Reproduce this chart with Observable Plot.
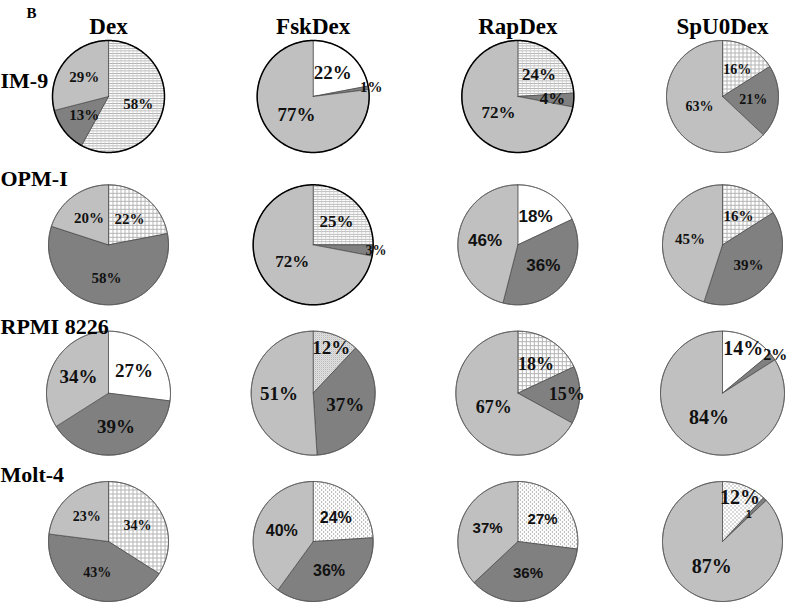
<!DOCTYPE html>
<html><head><meta charset="utf-8">
<script src="https://cdn.jsdelivr.net/npm/d3@7"></script>
<script src="https://cdn.jsdelivr.net/npm/@observablehq/plot@0.6"></script>
<style>body{margin:0;background:#fff} #chart{width:800px;height:606px}</style>
</head><body><div id="chart"></div>
<script>
// ---- data ----
const cellLines = ["IM-9", "OPM-I", "RPMI 8226", "Molt-4"];
const treatments = ["Dex", "FskDex", "RapDex", "SpU0Dex"];
// per treatment: [first (white/patterned) slice, dark slice, light slice], in %
const im9 = [[58, 13, 29], [22, 1, 77], [24, 4, 72], [16, 21, 63]];
const opm1 = [[22, 58, 20], [25, 3, 72], [18, 36, 46], [16, 39, 45]];
const rpmi8226 = [[27, 39, 34], [12, 37, 51], [18, 15, 67], [14, 2, 84]];
const molt4 = [[34, 43, 23], [24, 36, 40], [27, 36, 37], [12, 1, 87]];
const valuesByLine = [im9, opm1, rpmi8226, molt4];
const labelOverride = {"Molt-4|SpU0Dex|1": "1"};

// ---- styles ----
const firstFill = [
  ["hlines", "white", "hlines", "grid"],
  ["grid", "hlines", "white", "grid"],
  ["white", "stipple", "grid", "white"],
  ["grid", "dots", "dots", "dots"]
];
const labelSize = [[15, 19, 17, 14], [15, 17, 17, 15], [19, 19, 18, 20], [14, 16, 15, 20]];
const labelSans = [[0, 0, 0, 0], [0, 0, 1, 0], [0, 0, 0, 0], [0, 1, 1, 0]];
const heavyOutline = [[1, 1, 1, 0], [0, 1, 0, 0], [0, 0, 0, 0], [0, 0, 0, 0]];
const rowRadius = [56, 60, 62, 60];
const LIGHT = "#c0c0c0", DARK = "#808080";
const fillOf = k => k === "white" ? "#ffffff" : `url(#pat-${k})`;

// ---- geometry from data ----
const slices = [], labels = [], outlines = [];
cellLines.forEach((line, i) => treatments.forEach((tr, j) => {
  const vals = valuesByLine[i][j];
  const r = rowRadius[i];
  const total = d3.sum(vals);
  const fs = labelSize[i][j];
  let acc = 0;
  vals.forEach((v, k) => {
    const a0 = acc / total * 2 * Math.PI; acc += v;
    const a1 = acc / total * 2 * Math.PI;
    const id = `${line}|${tr}|${k}`;
    const fill = k === 0 ? fillOf(firstFill[i][j]) : k === 1 ? DARK : LIGHT;
    const n = Math.max(2, Math.ceil((a1 - a0) / (Math.PI / 180)));
    slices.push({id, line, tr, fill, x: 0, y: 0});
    for (let s = 0; s <= n; s++) {
      const a = a0 + (a1 - a0) * s / n;
      slices.push({id, line, tr, fill, x: r * Math.sin(a), y: r * Math.cos(a)});
    }
    slices.push({id, line, tr, fill, x: 0, y: 0});
    const mid = (a0 + a1) / 2, frac = v / total;
    const key = `${line}|${tr}|${v}`;
    const text = labelOverride[key] ?? `${v}%`;
    const small = !text.includes("%");
    const tiny = !small && frac <= 0.03;
    const kf = small ? 0.62
      : tiny ? 1.05
      : frac <= 0.05 ? 0.62
      : (frac < 0.155 && fs >= 18) ? 0.79
      : frac >= 0.6 ? 0.45 : 0.55;
    labels.push({line, tr, text, x: kf * r * Math.sin(mid), y: kf * r * Math.cos(mid),
      size: small ? 10 : tiny ? Math.round(fs * 0.8) : fs, sans: small || labelSans[i][j] === 1});
  });
  for (let s = 0; s <= 360; s++) {
    const a = s / 180 * Math.PI;
    outlines.push({id: `${line}|${tr}`, line, tr, heavy: heavyOutline[i][j] === 1,
      x: r * Math.sin(a), y: r * Math.cos(a)});
  }
}));

const serif = "'Liberation Serif', 'Times New Roman', serif";
const sans = "'Liberation Sans', Arial, sans-serif";

const svg = Plot.plot({
  width: 800, height: 606,
  marginLeft: 38, marginRight: 8, marginTop: 36, marginBottom: 5,
  fx: {domain: treatments, paddingInner: 0.316, paddingOuter: 0, round: false, axis: null},
  fy: {domain: cellLines, paddingInner: 0.191, paddingOuter: 0, round: false, axis: null},
  x: {domain: [-70, 70], axis: null},
  y: {domain: [-60, 60], axis: null},
  color: {type: "identity"},
  marks: [
    Plot.line(slices, {x: "x", y: "y", z: "id", fx: "tr", fy: "line", fill: "fill",
      stroke: "#3a3a3a", strokeWidth: 0.6, strokeLinejoin: "round", curve: "linear"}),
    Plot.line(outlines.filter(d => !d.heavy), {x: "x", y: "y", z: "id", fx: "tr", fy: "line",
      stroke: "#555", strokeWidth: 0.8}),
    Plot.line(outlines.filter(d => d.heavy), {x: "x", y: "y", z: "id", fx: "tr", fy: "line",
      stroke: "#000", strokeWidth: 1.5}),
    Plot.text(labels.filter(d => !d.sans), {x: "x", y: "y", fx: "tr", fy: "line", text: "text",
      fontSize: "size", fontWeight: "bold", fontFamily: serif, fill: "#111"}),
    Plot.text(labels.filter(d => d.sans), {x: "x", y: "y", fx: "tr", fy: "line", text: "text",
      fontSize: "size", fontWeight: "bold", fontFamily: sans, fill: "#111"}),
    // column titles
    Plot.text(treatments, {fx: d => d, fy: () => cellLines[0], text: d => d, frameAnchor: "top",
      lineAnchor: "bottom", dy: -3, fontSize: 23, fontWeight: "bold", fontFamily: serif, fill: "#000"}),
    // row labels
    Plot.text(cellLines.slice(0, 1), {fx: () => treatments[0], fy: d => d, text: d => d,
      frameAnchor: "top-left", textAnchor: "start", lineAnchor: "bottom", dx: -38, dy: 51,
      fontSize: 22, fontWeight: "bold", fontFamily: serif, fill: "#000"}),
    Plot.text(cellLines.slice(1), {fx: () => treatments[0], fy: d => d, text: d => d,
      frameAnchor: "top-left", textAnchor: "start", lineAnchor: "bottom", dx: -38, dy: 1,
      fontSize: 22, fontWeight: "bold", fontFamily: serif, fill: "#000"}),
    // panel letter
    Plot.text(["B"], {fx: () => treatments[0], fy: () => cellLines[0], text: d => d,
      frameAnchor: "top-left", textAnchor: "start", lineAnchor: "bottom", dx: -12, dy: -19,
      fontSize: 15, fontWeight: "bold", fontFamily: serif, fill: "#000"})
  ]
});

const ns = "http://www.w3.org/2000/svg";
const defs = document.createElementNS(ns, "defs");
defs.innerHTML = `
<pattern id="pat-hlines" patternUnits="userSpaceOnUse" width="4" height="2.5">
  <rect width="4" height="2.5" fill="#fff"/>
  <rect y="0" width="4" height="0.8" fill="#a8a8a8"/>
  <rect x="0" width="0.7" height="2.5" fill="#c8c8c8"/>
</pattern>
<pattern id="pat-grid" patternUnits="userSpaceOnUse" width="4" height="4">
  <rect width="4" height="4" fill="#fff"/>
  <rect width="4" height="1" fill="#b4b4b4"/>
  <rect width="1" height="4" fill="#b4b4b4"/>
</pattern>
<pattern id="pat-stipple" patternUnits="userSpaceOnUse" width="2" height="2">
  <rect width="2" height="2" fill="#f2f2f2"/>
  <rect x="0" y="0" width="1" height="1" fill="#a0a0a0"/>
  <rect x="1" y="1" width="1" height="1" fill="#c8c8c8"/>
</pattern>
<pattern id="pat-dots" patternUnits="userSpaceOnUse" width="4" height="4">
  <rect width="4" height="4" fill="#fff"/>
  <rect x="0" y="0" width="1" height="1" fill="#6a6a6a"/>
  <rect x="2" y="2" width="1" height="1" fill="#6a6a6a"/>
</pattern>`;
svg.insertBefore(defs, svg.firstChild);
document.getElementById("chart").appendChild(svg);
</script>
</body></html>
